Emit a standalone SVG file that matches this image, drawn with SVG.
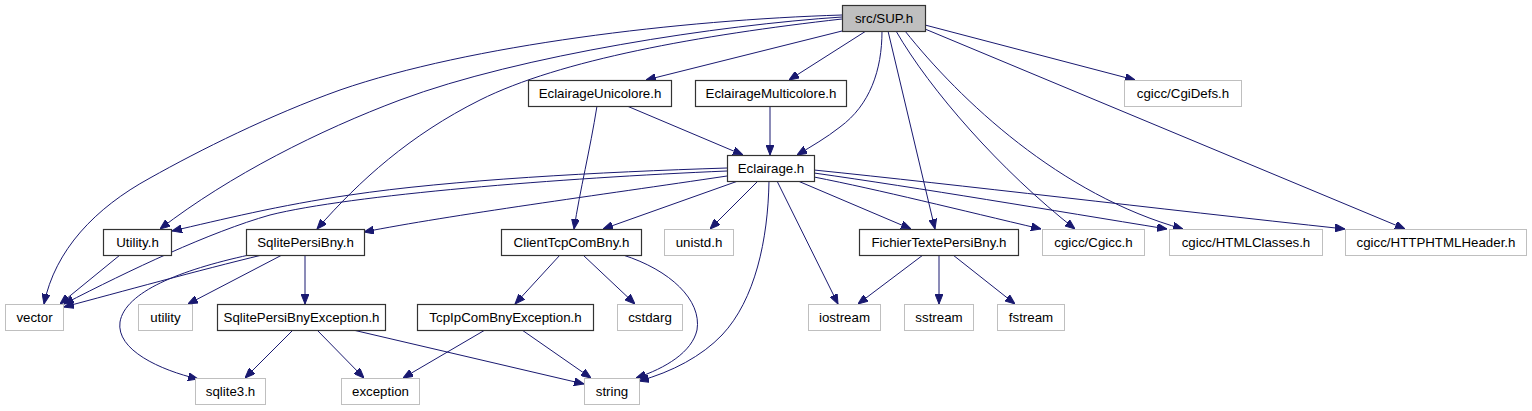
<svg xmlns="http://www.w3.org/2000/svg" width="1532" height="411" viewBox="0 0 1532 411">
<style>
.n rect{fill:#fff;stroke:#333;stroke-width:1.2}
.x rect{fill:#fff;stroke:#bfbfbf;stroke-width:1}
.r rect{fill:#bfbfbf;stroke:#333;stroke-width:1.2}
text{font-family:"Liberation Sans",Arial,Helvetica,sans-serif;font-size:13.3px;fill:#000;text-anchor:middle}
.e path{fill:none;stroke:#191970;stroke-width:1;marker-end:url(#a)}
</style>
<defs>
<marker id="a" viewBox="0 0 10 8" refX="10" refY="4" markerWidth="10" markerHeight="8" orient="auto" markerUnits="userSpaceOnUse">
<path d="M0,0 L10,4 L0,8 z" fill="#191970" stroke="#191970" stroke-width="1"/>
</marker>
</defs>
<rect width="1532" height="411" fill="#fff"/>
<g id="connectors" class="e">
<path d="M842,15 C680,20 470,45 340,90 C270,115 200,150 150,178 C95,208 55,250 44,304"/>
<path d="M842,17 C720,25 520,55 400,100 C320,130 230,175 160,229"/>
<path d="M842,19 C700,35 560,60 480,100 C410,135 360,180 317,229"/>
<path d="M842,31 L646,80"/>
<path d="M866,31 L789,80"/>
<path d="M882,31 C882,70 870,105 840,127 C826,138 812,146 797,155"/>
<path d="M888,31 L935,229"/>
<path d="M896,31 C930,90 1000,170 1075,229"/>
<path d="M905,31 C960,100 1060,195 1183,229"/>
<path d="M925,29 L1405,229"/>
<path d="M925,25 L1135,80"/>
<path d="M627,106 L743,155"/>
<path d="M597,106 C590,150 580,190 574,229"/>
<path d="M770,106 L770,155"/>
<path d="M727,168 C600,172 450,180 350,195 C280,205 220,220 172,231"/>
<path d="M727,171 C560,178 350,195 270,215 C210,232 130,270 64,304"/>
<path d="M727,176 C600,195 450,215 364,232"/>
<path d="M738,181 L603,229"/>
<path d="M758,181 L710,229"/>
<path d="M769,181 C768,240 755,300 722,335 C702,356 672,372 639,381"/>
<path d="M777,181 L838,304"/>
<path d="M798,181 L911,229"/>
<path d="M814,177 C880,190 960,210 1041,229"/>
<path d="M814,173 C920,188 1050,210 1167,229"/>
<path d="M814,170 C960,185 1150,208 1345,229"/>
<path d="M120,255 L60,304"/>
<path d="M262,255 C200,270 120,292 64,307"/>
<path d="M282,255 L188,304"/>
<path d="M305,255 L305,304"/>
<path d="M249,255 C180,270 125,292 120,322 C116,350 160,370 198,379"/>
<path d="M293,330 L245,378"/>
<path d="M317,330 L364,378"/>
<path d="M353,330 L584,384"/>
<path d="M485,330 L403,378"/>
<path d="M522,330 L591,378"/>
<path d="M560,255 L515,304"/>
<path d="M583,255 L635,304"/>
<path d="M623,255 C670,270 702,300 697,330 C692,352 666,368 636,378"/>
<path d="M923,255 L858,304"/>
<path d="M939,255 L939,304"/>
<path d="M953,255 L1015,304"/>
</g>
<g id="sup" class="r"><rect x="842.5" y="5.5" width="83" height="26"/><text x="884" y="23">src/SUP.h</text></g>
<g id="unicolore" class="n"><rect x="528.5" y="80.5" width="143" height="26"/><text x="600" y="98">EclairageUnicolore.h</text></g>
<g id="multicolore" class="n"><rect x="695.5" y="80.5" width="151" height="26"/><text x="771" y="98">EclairageMulticolore.h</text></g>
<g id="cgidefs" class="x"><rect x="1124.5" y="80.5" width="117" height="26"/><text x="1183" y="98">cgicc/CgiDefs.h</text></g>
<g id="eclairage" class="n"><rect x="727.5" y="155.5" width="87" height="26"/><text x="771" y="173">Eclairage.h</text></g>
<g id="utility_h" class="n"><rect x="103.5" y="229.5" width="68" height="26"/><text x="137.5" y="247">Utility.h</text></g>
<g id="sqlitepersi" class="n"><rect x="246.5" y="229.5" width="118" height="26"/><text x="305.5" y="247">SqlitePersiBny.h</text></g>
<g id="clienttcp" class="n"><rect x="501.5" y="229.5" width="140" height="26"/><text x="571.5" y="247">ClientTcpComBny.h</text></g>
<g id="unistd" class="x"><rect x="664.5" y="229.5" width="69" height="26"/><text x="699" y="247">unistd.h</text></g>
<g id="fichier" class="n"><rect x="859.5" y="229.5" width="159" height="26"/><text x="939" y="247">FichierTextePersiBny.h</text></g>
<g id="cgicc" class="x"><rect x="1042.5" y="229.5" width="102" height="26"/><text x="1093.5" y="247">cgicc/Cgicc.h</text></g>
<g id="htmlclasses" class="x"><rect x="1169.5" y="229.5" width="153" height="26"/><text x="1246" y="247">cgicc/HTMLClasses.h</text></g>
<g id="httpheader" class="x"><rect x="1345.5" y="229.5" width="181" height="26"/><text x="1436" y="247">cgicc/HTTPHTMLHeader.h</text></g>
<g id="vector" class="x"><rect x="5.5" y="304.5" width="58" height="26"/><text x="34.5" y="322">vector</text></g>
<g id="utility" class="x"><rect x="138.5" y="304.5" width="54" height="26"/><text x="165.5" y="322">utility</text></g>
<g id="sqliteexc" class="n"><rect x="217.5" y="304.5" width="168" height="26"/><text x="301.5" y="322">SqlitePersiBnyException.h</text></g>
<g id="tcpexc" class="n"><rect x="417.5" y="304.5" width="176" height="26"/><text x="505.5" y="322">TcpIpComBnyException.h</text></g>
<g id="cstdarg" class="x"><rect x="617.5" y="304.5" width="65" height="26"/><text x="650" y="322">cstdarg</text></g>
<g id="iostream" class="x"><rect x="808.5" y="304.5" width="72" height="26"/><text x="844.5" y="322">iostream</text></g>
<g id="sstream" class="x"><rect x="904.5" y="304.5" width="69" height="26"/><text x="939" y="322">sstream</text></g>
<g id="fstream" class="x"><rect x="997.5" y="304.5" width="67" height="26"/><text x="1031" y="322">fstream</text></g>
<g id="sqlite3" class="x"><rect x="195.5" y="378.5" width="70" height="26"/><text x="230.5" y="396">sqlite3.h</text></g>
<g id="exception" class="x"><rect x="341.5" y="378.5" width="78" height="26"/><text x="380.5" y="396">exception</text></g>
<g id="string" class="x"><rect x="584.5" y="378.5" width="55" height="26"/><text x="612" y="396">string</text></g>
</svg>
